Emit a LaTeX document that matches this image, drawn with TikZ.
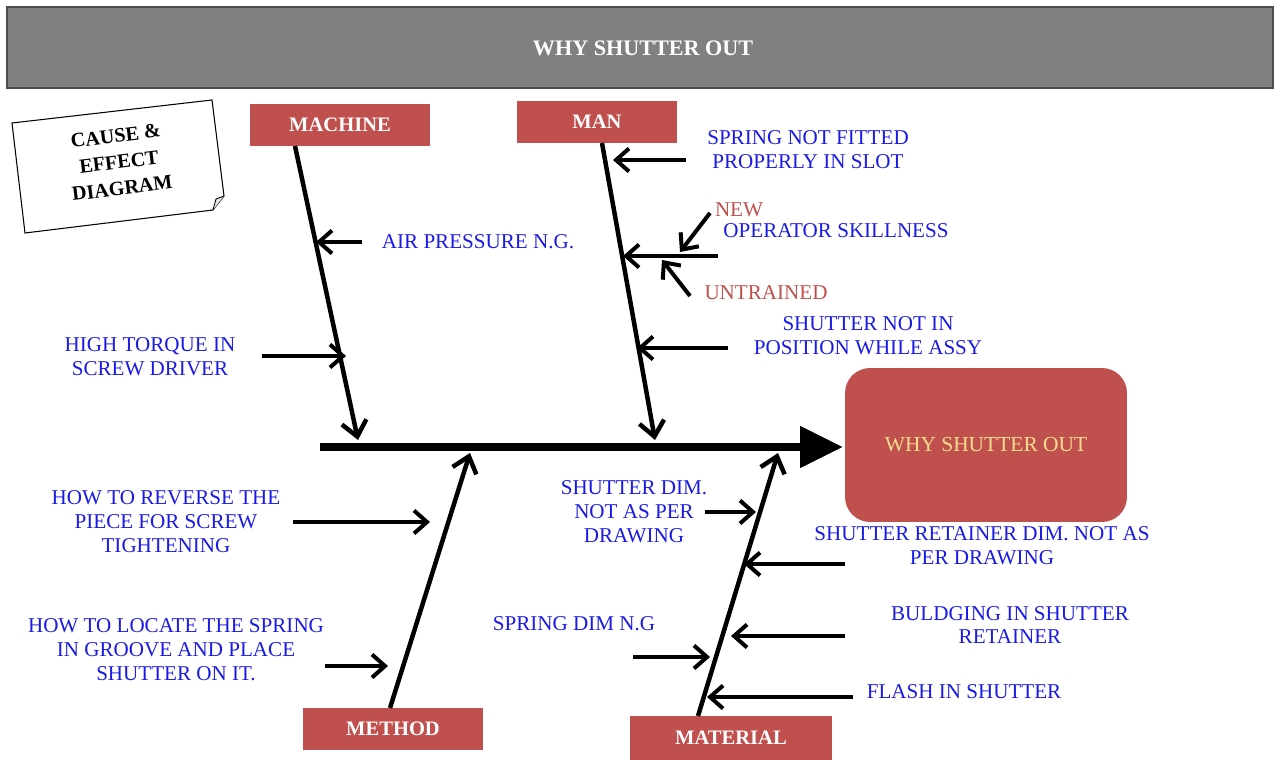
\documentclass[tikz,border=0pt]{standalone}
\usepackage{fontspec}
\setmainfont{Liberation Serif}
\usetikzlibrary{calc, arrows.meta}
\definecolor{boxred}{HTML}{C0504D}
\definecolor{causeblue}{HTML}{1A1AE6}
\definecolor{effectyellow}{HTML}{F5DC8C}
\definecolor{titlegray}{HTML}{808080}

\begin{document}
\begin{tikzpicture}[x=0.02cm, y=-0.02cm,
    catbox/.style={fill=boxred, text=white, inner sep=0pt,
        font=\bfseries\fontsize{11.7}{13}\selectfont, minimum height=0.84cm},
    cause/.style={text=causeblue, align=center, font=\fontsize{12}{13.6}\selectfont},
    subcause/.style={text=boxred, font=\fontsize{12}{13.6}\selectfont},
    bone/.style={line width=0.09cm, -{Straight Barb[length=0.3cm, width=0.5cm]}},
    twig/.style={line width=0.08cm, -{Straight Barb[length=0.26cm, width=0.46cm]}}]

    \useasboundingbox (0,0) rectangle (1277,760);

    % title bar
    \draw[fill=titlegray, draw=black!70, line width=0.8pt] (7,7) rectangle (1273,88);
    \node[text=white, font=\bfseries\fontsize{12.6}{14}\selectfont] (title) at (643,48) {WHY SHUTTER OUT};

    % sticky note
    \draw[fill=white, line width=0.6pt] (12,123) -- (212,100) -- (224,196) -- (213,210) -- (25,233) -- cycle;
    \draw[fill=black!10, line width=0.5pt] (224,196) -- (216,199) -- (213,210);
    \node[rotate=7, align=center, font=\bfseries\fontsize{11.5}{15}\selectfont] (note) at (119,162) {CAUSE \&\\EFFECT\\DIAGRAM};

    % category boxes and effect
    \node[catbox, minimum width=3.6cm] (machine) at (340,125) {MACHINE};
    \node[catbox, minimum width=3.22cm] (man) at (597,122) {MAN};
    \node[catbox, minimum width=3.62cm] (method) at (393,729) {METHOD};
    \node[catbox, minimum width=4.06cm, minimum height=0.88cm] (material) at (731,738) {MATERIAL};
    \node[fill=boxred, rounded corners=0.5cm, minimum width=5.64cm, minimum height=3.08cm,
        text=effectyellow, font=\fontsize{12.2}{14}\selectfont] (effect) at (986,445) {WHY SHUTTER OUT};

    \coordinate (S1) at (320,447);
    \coordinate (S2) at (843,447);
    \coordinate (M1) at (295,146);
    \coordinate (M2) at (358,440);
    \coordinate (N1) at (602,143);
    \coordinate (N2) at (655,440);
    \coordinate (P1) at (390,708);
    \coordinate (P2) at (470,453);
    \coordinate (Q1) at (698,716);
    \coordinate (Q2) at (778,453);

    % spine and bones
    \draw[line width=0.16cm, -{Triangle[length=0.86cm, width=0.8cm]}] (S1) -- (S2);
    \draw[bone] (M1) -- (M2);
    \draw[bone] (N1) -- (N2);
    \draw[bone] (P1) -- (P2);
    \draw[bone] (Q1) -- (Q2);

    % causes
    \node[cause] (air) at (478,242) {AIR PRESSURE N.G.};
    \node[cause] (torque) at (150,357) {HIGH TORQUE IN\\SCREW DRIVER};
    \node[cause] (spring) at (808,150) {SPRING NOT FITTED\\PROPERLY IN SLOT};
    \node[cause] (skill) at (836,231) {OPERATOR SKILLNESS};
    \node[subcause] (new) at (739,210) {NEW};
    \node[subcause] (untrained) at (766,293) {UNTRAINED};
    \node[cause] (position) at (868,336) {SHUTTER NOT IN\\POSITION WHILE ASSY};
    \node[cause] (reverse) at (166,522) {HOW TO REVERSE THE\\PIECE FOR SCREW\\TIGHTENING};
    \node[cause] (locate) at (176,650) {HOW TO LOCATE THE SPRING\\IN GROOVE AND PLACE\\SHUTTER ON IT.};
    \node[cause] (shutdim) at (634,512) {SHUTTER DIM.\\NOT AS PER\\DRAWING};
    \node[cause] (retainer) at (982,546) {SHUTTER RETAINER DIM. NOT AS\\PER DRAWING};
    \node[cause] (springdim) at (574,624) {SPRING DIM N.G};
    \node[cause] (buldging) at (1010,625) {BULDGING IN SHUTTER\\RETAINER};
    \node[cause] (flash) at (964,692) {FLASH IN SHUTTER};

    \coordinate (a1) at (362,242);  \coordinate (a2) at (316,242);
    \coordinate (b1) at (262,356);  \coordinate (b2) at (346,356);
    \coordinate (c1) at (686,160);  \coordinate (c2) at (613,160);
    \coordinate (d1) at (718,256);  \coordinate (d2) at (623,256);
    \coordinate (e1) at (710,213);  \coordinate (e2) at (680,252);
    \coordinate (f1) at (690,296);  \coordinate (f2) at (662,260);
    \coordinate (g1) at (728,348);  \coordinate (g2) at (637,348);
    \coordinate (h1) at (293,522);  \coordinate (h2) at (430,522);
    \coordinate (i1) at (325,666);  \coordinate (i2) at (388,666);
    \coordinate (j1) at (705,512);  \coordinate (j2) at (756,512);
    \coordinate (k1) at (845,564);  \coordinate (k2) at (744,564);
    \coordinate (l1) at (633,657);  \coordinate (l2) at (710,657);
    \coordinate (n1) at (845,636);  \coordinate (n2) at (731,636);
    \coordinate (o1) at (853,697);  \coordinate (o2) at (707,697);

    \foreach \s/\t in {a1/a2, b1/b2, c1/c2, d1/d2, e1/e2, f1/f2, g1/g2,
                       h1/h2, i1/i2, j1/j2, k1/k2, l1/l2, n1/n2, o1/o2}
        \draw[twig] (\s) -- (\t);

\end{tikzpicture}
\end{document}
